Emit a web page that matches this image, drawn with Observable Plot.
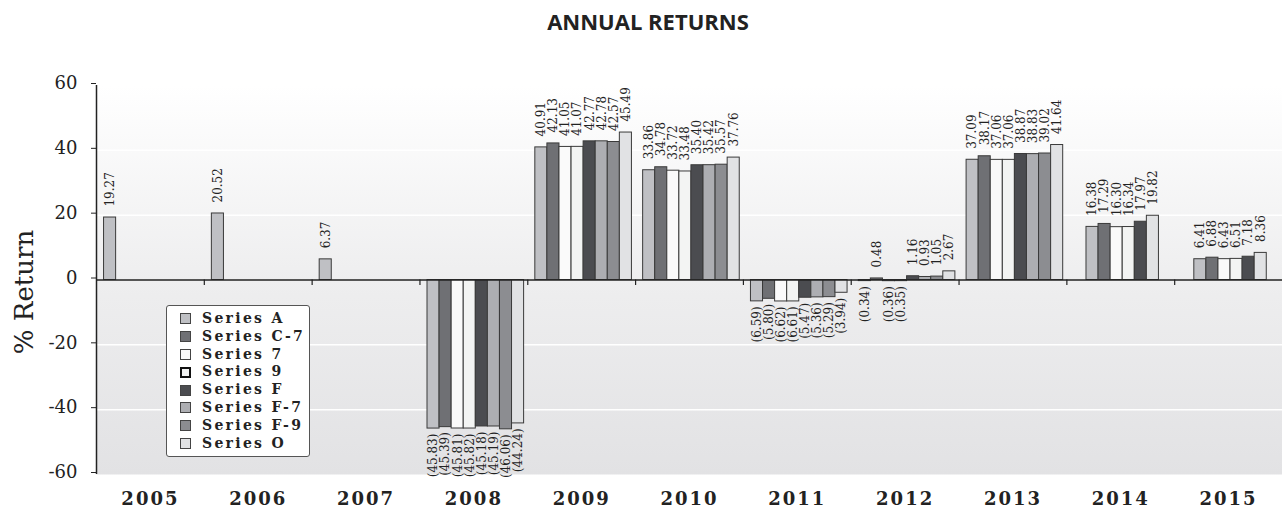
<!DOCTYPE html>
<html>
<head>
<meta charset="utf-8">
<script src="https://cdn.jsdelivr.net/npm/d3@7"></script>
<script src="https://cdn.jsdelivr.net/npm/@observablehq/plot@0.6"></script>
<style>
  body { margin: 0; background: #fff; }
  #wrap { position: relative; width: 1282px; height: 512px; overflow: hidden; }
  #title { height: 44px; box-sizing: border-box; padding-top: 6px; padding-left: 14px; text-align: center;
           font: 700 22px/30px "Open Sans", sans-serif; color: #222; }
  #chart svg { display: block; }
  #chart svg g[aria-label="x-axis tick label"] text { letter-spacing: 2px; }
  #legend { position: absolute; left: 166px; top: 305px; width: 144px; height: 152px; box-sizing: border-box;
            background: #fff; border: 1px solid #555; border-radius: 3px; padding-top: 4px; }
  .row { position: relative; height: 17.8px; line-height: 17.8px; font: 700 14px "DejaVu Serif", serif;
         letter-spacing: 2.3px; color: #222; padding-left: 35px; white-space: nowrap; }
  .sw { position: absolute; left: 13px; top: 3.4px; width: 11px; height: 11px; box-sizing: border-box; border: 1px solid #444; }
</style>
</head>
<body>
<div id="wrap">
  <div id="title">ANNUAL RETURNS</div>
  <div id="chart"></div>
  <div id="legend"></div>
</div>
<script>
const years = [2005, 2006, 2007, 2008, 2009, 2010, 2011, 2012, 2013, 2014, 2015];
const seriesNames = ["Series A", "Series C-7", "Series 7", "Series 9", "Series F", "Series F-7", "Series F-9", "Series O"];
const seriesA  = [19.27, 20.52, 6.37, -45.83, 40.91, 33.86, -6.59, -0.34, 37.09, 16.38, 6.41];
const seriesC7 = [null, null, null, -45.39, 42.13, 34.78, -5.80, 0.48, 38.17, 17.29, 6.88];
const series7  = [null, null, null, -45.81, 41.05, 33.72, -6.62, -0.36, 37.06, 16.30, 6.43];
const series9  = [null, null, null, -45.82, 41.07, 33.48, -6.61, -0.35, 37.06, 16.34, 6.51];
const seriesF  = [null, null, null, -45.18, 42.77, 35.40, -5.47, 1.16, 38.87, 17.97, 7.18];
const seriesF7 = [null, null, null, -45.19, 42.78, 35.42, -5.36, 0.93, 38.83, null, null];
const seriesF9 = [null, null, null, -46.06, 42.57, 35.57, -5.29, 1.05, 39.02, null, null];
const seriesO  = [null, null, null, -44.24, 45.49, 37.76, -3.94, 2.67, 41.64, 19.82, 8.36];
const yTicks = [-60, -40, -20, 0, 20, 40, 60];
const gridValues = [-40, -20, 20, 40];

const colors = ["#bfc0c4", "#6f7074", "#fafafa", "#f3f4f3", "#4b4c50", "#adaeb2", "#8c8d91", "#e1e2e4"];
const allSeries = [seriesA, seriesC7, series7, series9, seriesF, seriesF7, seriesF9, seriesO];

// build rows; within each year the present bars are centred in 8 slots
const slotW = 0.112, leftPad = 0.07;
const rows = [];
years.forEach((yr, i) => {
  const present = allSeries.map((s, k) => k).filter(k => allSeries[k][i] != null);
  const offset = present.length > 1 ? (8 - present.length) / 2 : 0;
  present.forEach((k, j) => {
    const x1 = i - 0.5 + leftPad + (offset + j) * slotW;
    rows.push({year: yr, series: seriesNames[k], value: allSeries[k][i], x1, x2: x1 + slotW, xm: x1 + slotW / 2});
  });
});
const fmt = v => v < 0 ? "(" + Math.abs(v).toFixed(2) + ")" : v.toFixed(2);
const bounds = years.slice(0, -1).map((y, i) => i + 0.5);

const plot = Plot.plot({
  width: 1282,
  height: 468,
  marginTop: 41,
  marginBottom: 38,
  marginLeft: 96,
  marginRight: 0,
  x: {type: "linear", domain: [-0.5, 10.5]},
  y: {domain: [-60, 60]},
  color: {domain: seriesNames, range: colors},
  style: {fontFamily: "'DejaVu Serif', serif", background: "transparent", color: "#222"},
  marks: [
    Plot.frame({fill: "url(#bgGrad)", stroke: "none"}),
    Plot.ruleY(gridValues, {stroke: "#ffffff", strokeWidth: 1.5}),
    Plot.rect(rows, {x1: "x1", x2: "x2", y1: () => 0, y2: "value", fill: "series", stroke: "#3a3a3a", strokeWidth: 1}),
    Plot.ruleY([0], {stroke: "#222", strokeWidth: 1.5}),
    Plot.ruleX(bounds, {y1: 0, y2: -1.7, stroke: "#222", strokeWidth: 1.2}),
    Plot.ruleX([-0.5], {stroke: "#222", strokeWidth: 1.5}),
    Plot.text(rows.filter(d => d.value >= 0), {x: "xm", y: "value", text: d => fmt(d.value), rotate: -90,
      textAnchor: "start", dy: -11, fontSize: 12, fill: "#222"}),
    Plot.text(rows.filter(d => d.value < 0), {x: "xm", y: "value", text: d => fmt(d.value), rotate: -90,
      textAnchor: "end", dy: 5, fontSize: 12, fill: "#222"}),
    Plot.axisY(yTicks, {tickSize: 5, tickPadding: 14, tickFormat: d => String(d), fontSize: 18, dy: -2, label: null}),
    Plot.axisX(years.map((y, i) => i), {anchor: "bottom", tickSize: 0, tickPadding: 18, tickFormat: i => String(years[i]),
      fontSize: 18, fontWeight: "bold", label: null}),
    Plot.text(["% Return"], {frameAnchor: "left", textAnchor: "middle", dx: -72, dy: 12, rotate: -90, fontSize: 26, fill: "#222"})
  ]
});

const svg = plot.tagName.toLowerCase() === "svg" ? plot : plot.querySelector("svg");
const defs = d3.select(svg).insert("defs", ":first-child");
const g = defs.append("linearGradient").attr("id", "bgGrad").attr("x1", 0).attr("y1", 0).attr("x2", 0).attr("y2", 1);
g.append("stop").attr("offset", "0%").attr("stop-color", "#ffffff");
g.append("stop").attr("offset", "50%").attr("stop-color", "#eeeeef");
g.append("stop").attr("offset", "100%").attr("stop-color", "#e2e2e4");
document.getElementById("chart").appendChild(plot);

const legend = document.getElementById("legend");
seriesNames.forEach((name, k) => {
  const row = document.createElement("div");
  row.className = "row";
  const sw = document.createElement("span");
  sw.className = "sw";
  sw.style.background = colors[k];
  if (name === "Series 9") { sw.style.border = "2px solid #111"; }
  row.appendChild(sw);
  row.appendChild(document.createTextNode(name));
  legend.appendChild(row);
});
</script>
</body>
</html>
